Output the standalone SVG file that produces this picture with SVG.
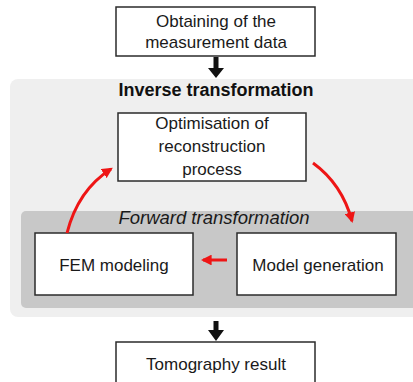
<svg xmlns="http://www.w3.org/2000/svg" width="413" height="382" viewBox="0 0 413 382">
  <style>
    .box { fill: #ffffff; stroke: #2b2b2b; stroke-width: 1.5; }
    .t { font-family: "Liberation Sans", Arial, sans-serif; font-size: 17px; fill: #1a1a1a; text-anchor: middle; }
    .title { font-family: "Liberation Sans", Arial, sans-serif; font-size: 18px; font-weight: bold; fill: #111111; text-anchor: middle; }
    .sub { font-family: "Liberation Sans", Arial, sans-serif; font-size: 18.5px; font-style: italic; fill: #1a1a1a; text-anchor: middle; }
    .red { fill: none; stroke: #ee1515; stroke-width: 3; }
  </style>
  <defs>
    <marker id="redHead" viewBox="0 0 10 10" refX="8" refY="5" markerWidth="3.6" markerHeight="3.6" orient="auto" markerUnits="strokeWidth">
      <path d="M0,0 L10,5 L0,10 Z" fill="#ee1515"/>
    </marker>
  </defs>

  <rect width="413" height="382" fill="#ffffff"/>

  <!-- inverse transformation panel -->
  <g id="inverse-panel">
    <rect x="10" y="79" width="415" height="238" rx="8" fill="#efefef"/>
    <text class="title" x="216" y="96">Inverse transformation</text>
  </g>

  <!-- forward transformation panel -->
  <g id="forward-panel">
    <rect x="21" y="211" width="400" height="97" rx="5" fill="#c8c8c8"/>
    <text class="sub" x="214" y="224">Forward transformation</text>
  </g>

  <g id="measurement">
    <rect class="box" x="116" y="7" width="199" height="49"/>
    <text class="t" x="216" y="27">Obtaining of the</text>
    <text class="t" x="216" y="48">measurement data</text>
  </g>

  <g id="optimisation">
    <rect class="box" x="118" y="113" width="188" height="68"/>
    <text class="t" x="212" y="129">Optimisation of</text>
    <text class="t" x="212" y="152">reconstruction</text>
    <text class="t" x="212" y="175">process</text>
  </g>

  <g id="fem">
    <rect class="box" x="35" y="233" width="158" height="62"/>
    <text class="t" x="114" y="271">FEM modeling</text>
  </g>

  <g id="model-generation">
    <rect class="box" x="237" y="233" width="159" height="62"/>
    <text class="t" x="318" y="271">Model generation</text>
  </g>

  <g id="result">
    <rect class="box" x="116" y="342" width="199" height="50"/>
    <text class="t" x="216" y="370">Tomography result</text>
  </g>

  <g id="connectors">
    <!-- black flow arrows -->
    <path d="M213.5,57 H218.5 V68 H224 L216,78 L208,68 H213.5 Z" fill="#111111"/>
    <path d="M213.5,321 H218.5 V330 H224 L216,341 L208,330 H213.5 Z" fill="#111111"/>
    <!-- red loop arrows -->
    <path class="red" d="M67,233 Q78,190 111,169" marker-end="url(#redHead)"/>
    <path class="red" d="M313,163 Q342,184 352,221" marker-end="url(#redHead)"/>
    <path class="red" d="M227,260 H203" marker-end="url(#redHead)"/>
  </g>
</svg>
